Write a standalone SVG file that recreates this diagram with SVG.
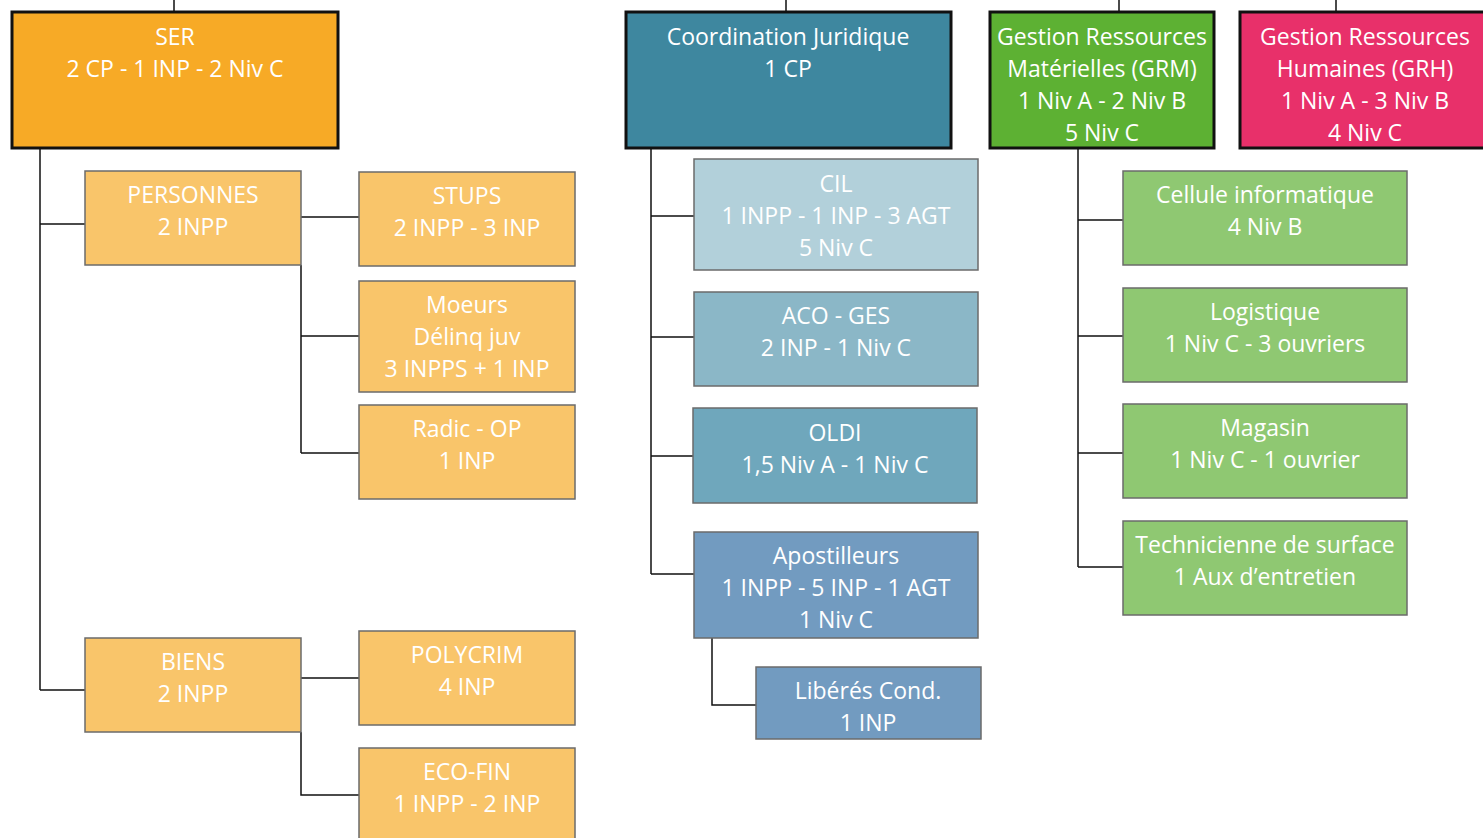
<svg xmlns="http://www.w3.org/2000/svg" width="1483" height="838" viewBox="0 0 1483 838">
<style>
.p{stroke:#111;stroke-width:3}
.c{stroke:#6b6b6b;stroke-width:1.5}
text{font-family:"Open Sans","Noto Sans",sans-serif;font-size:23px;fill:#fff;text-anchor:middle}
.ln{stroke:#111;stroke-width:1.5;fill:none}
</style>
<rect width="1483" height="838" fill="#fff"/>
<g id="connectors">
<path class="ln" d="M174 0V12M786 0V12M1119 0V12M1336 0V12"/>
<path class="ln" d="M40 149V690M40 224H85M40 690H85"/>
<path class="ln" d="M301 217H359M301 265V453M301 336H359M301 453H359"/>
<path class="ln" d="M301 678H359M301 732V795H359"/>
<path class="ln" d="M651 149V574M651 216H694M651 337H694M651 456H693M651 574H694"/>
<path class="ln" d="M712 638V705H756"/>
<path class="ln" d="M1078 149V567M1078 220H1123M1078 336H1123M1078 453H1123M1078 567H1123"/>
</g>
<g id="ser"><rect class="p" x="12" y="12" width="326" height="136" fill="#F7AA26"/><text x="175" y="45">SER</text><text x="175" y="77">2 CP - 1 INP - 2 Niv C</text></g>
<g id="cj"><rect class="p" x="626" y="12" width="325" height="136" fill="#3E879F"/><text x="788" y="45">Coordination Juridique</text><text x="788" y="77">1 CP</text></g>
<g id="grm"><rect class="p" x="990" y="12" width="224" height="136" fill="#5DB133"/><text x="1102" y="45">Gestion Ressources</text><text x="1102" y="77">Matérielles (GRM)</text><text x="1102" y="109">1 Niv A - 2 Niv B</text><text x="1102" y="141">5 Niv C</text></g>
<g id="grh"><rect class="p" x="1240" y="12" width="250" height="136" fill="#E8306A"/><text x="1365" y="45">Gestion Ressources</text><text x="1365" y="77">Humaines (GRH)</text><text x="1365" y="109">1 Niv A - 3 Niv B</text><text x="1365" y="141">4 Niv C</text></g>
<g id="personnes"><rect class="c" x="85" y="171" width="216" height="94" fill="#F9C56A"/><text x="193" y="203">PERSONNES</text><text x="193" y="235">2 INPP</text></g>
<g id="stups"><rect class="c" x="359" y="172" width="216" height="94" fill="#F9C56A"/><text x="467" y="204">STUPS</text><text x="467" y="236">2 INPP - 3 INP</text></g>
<g id="moeurs"><rect class="c" x="359" y="281" width="216" height="111" fill="#F9C56A"/><text x="467" y="313">Moeurs</text><text x="467" y="345">Délinq juv</text><text x="467" y="377">3 INPPS + 1 INP</text></g>
<g id="radic"><rect class="c" x="359" y="405" width="216" height="94" fill="#F9C56A"/><text x="467" y="437">Radic - OP</text><text x="467" y="469">1 INP</text></g>
<g id="biens"><rect class="c" x="85" y="638" width="216" height="94" fill="#F9C56A"/><text x="193" y="670">BIENS</text><text x="193" y="702">2 INPP</text></g>
<g id="polycrim"><rect class="c" x="359" y="631" width="216" height="94" fill="#F9C56A"/><text x="467" y="663">POLYCRIM</text><text x="467" y="695">4 INP</text></g>
<g id="ecofin"><rect class="c" x="359" y="748" width="216" height="100" fill="#F9C56A"/><text x="467" y="780">ECO-FIN</text><text x="467" y="812">1 INPP - 2 INP</text></g>
<g id="cil"><rect class="c" x="694" y="159" width="284" height="111" fill="#B2D0DA"/><text x="836" y="192">CIL</text><text x="836" y="224">1 INPP - 1 INP - 3 AGT</text><text x="836" y="256">5 Niv C</text></g>
<g id="aco"><rect class="c" x="694" y="292" width="284" height="94" fill="#8BB7C7"/><text x="836" y="324">ACO - GES</text><text x="836" y="356">2 INP - 1 Niv C</text></g>
<g id="oldi"><rect class="c" x="693" y="408" width="284" height="95" fill="#6FA7BC"/><text x="835" y="441">OLDI</text><text x="835" y="473">1,5 Niv A - 1 Niv C</text></g>
<g id="apostilleurs"><rect class="c" x="694" y="532" width="284" height="106" fill="#729BC0"/><text x="836" y="564">Apostilleurs</text><text x="836" y="596">1 INPP - 5 INP - 1 AGT</text><text x="836" y="628">1 Niv C</text></g>
<g id="liberes"><rect class="c" x="756" y="667" width="225" height="72" fill="#729BC0"/><text x="868" y="699">Libérés Cond.</text><text x="868" y="731">1 INP</text></g>
<g id="cellule"><rect class="c" x="1123" y="171" width="284" height="94" fill="#8FC872"/><text x="1265" y="203">Cellule informatique</text><text x="1265" y="235">4 Niv B</text></g>
<g id="logistique"><rect class="c" x="1123" y="288" width="284" height="94" fill="#8FC872"/><text x="1265" y="320">Logistique</text><text x="1265" y="352">1 Niv C - 3 ouvriers</text></g>
<g id="magasin"><rect class="c" x="1123" y="404" width="284" height="94" fill="#8FC872"/><text x="1265" y="436">Magasin</text><text x="1265" y="468">1 Niv C - 1 ouvrier</text></g>
<g id="technicienne"><rect class="c" x="1123" y="521" width="284" height="94" fill="#8FC872"/><text x="1265" y="553">Technicienne de surface</text><text x="1265" y="585">1 Aux d’entretien</text></g>
</svg>
